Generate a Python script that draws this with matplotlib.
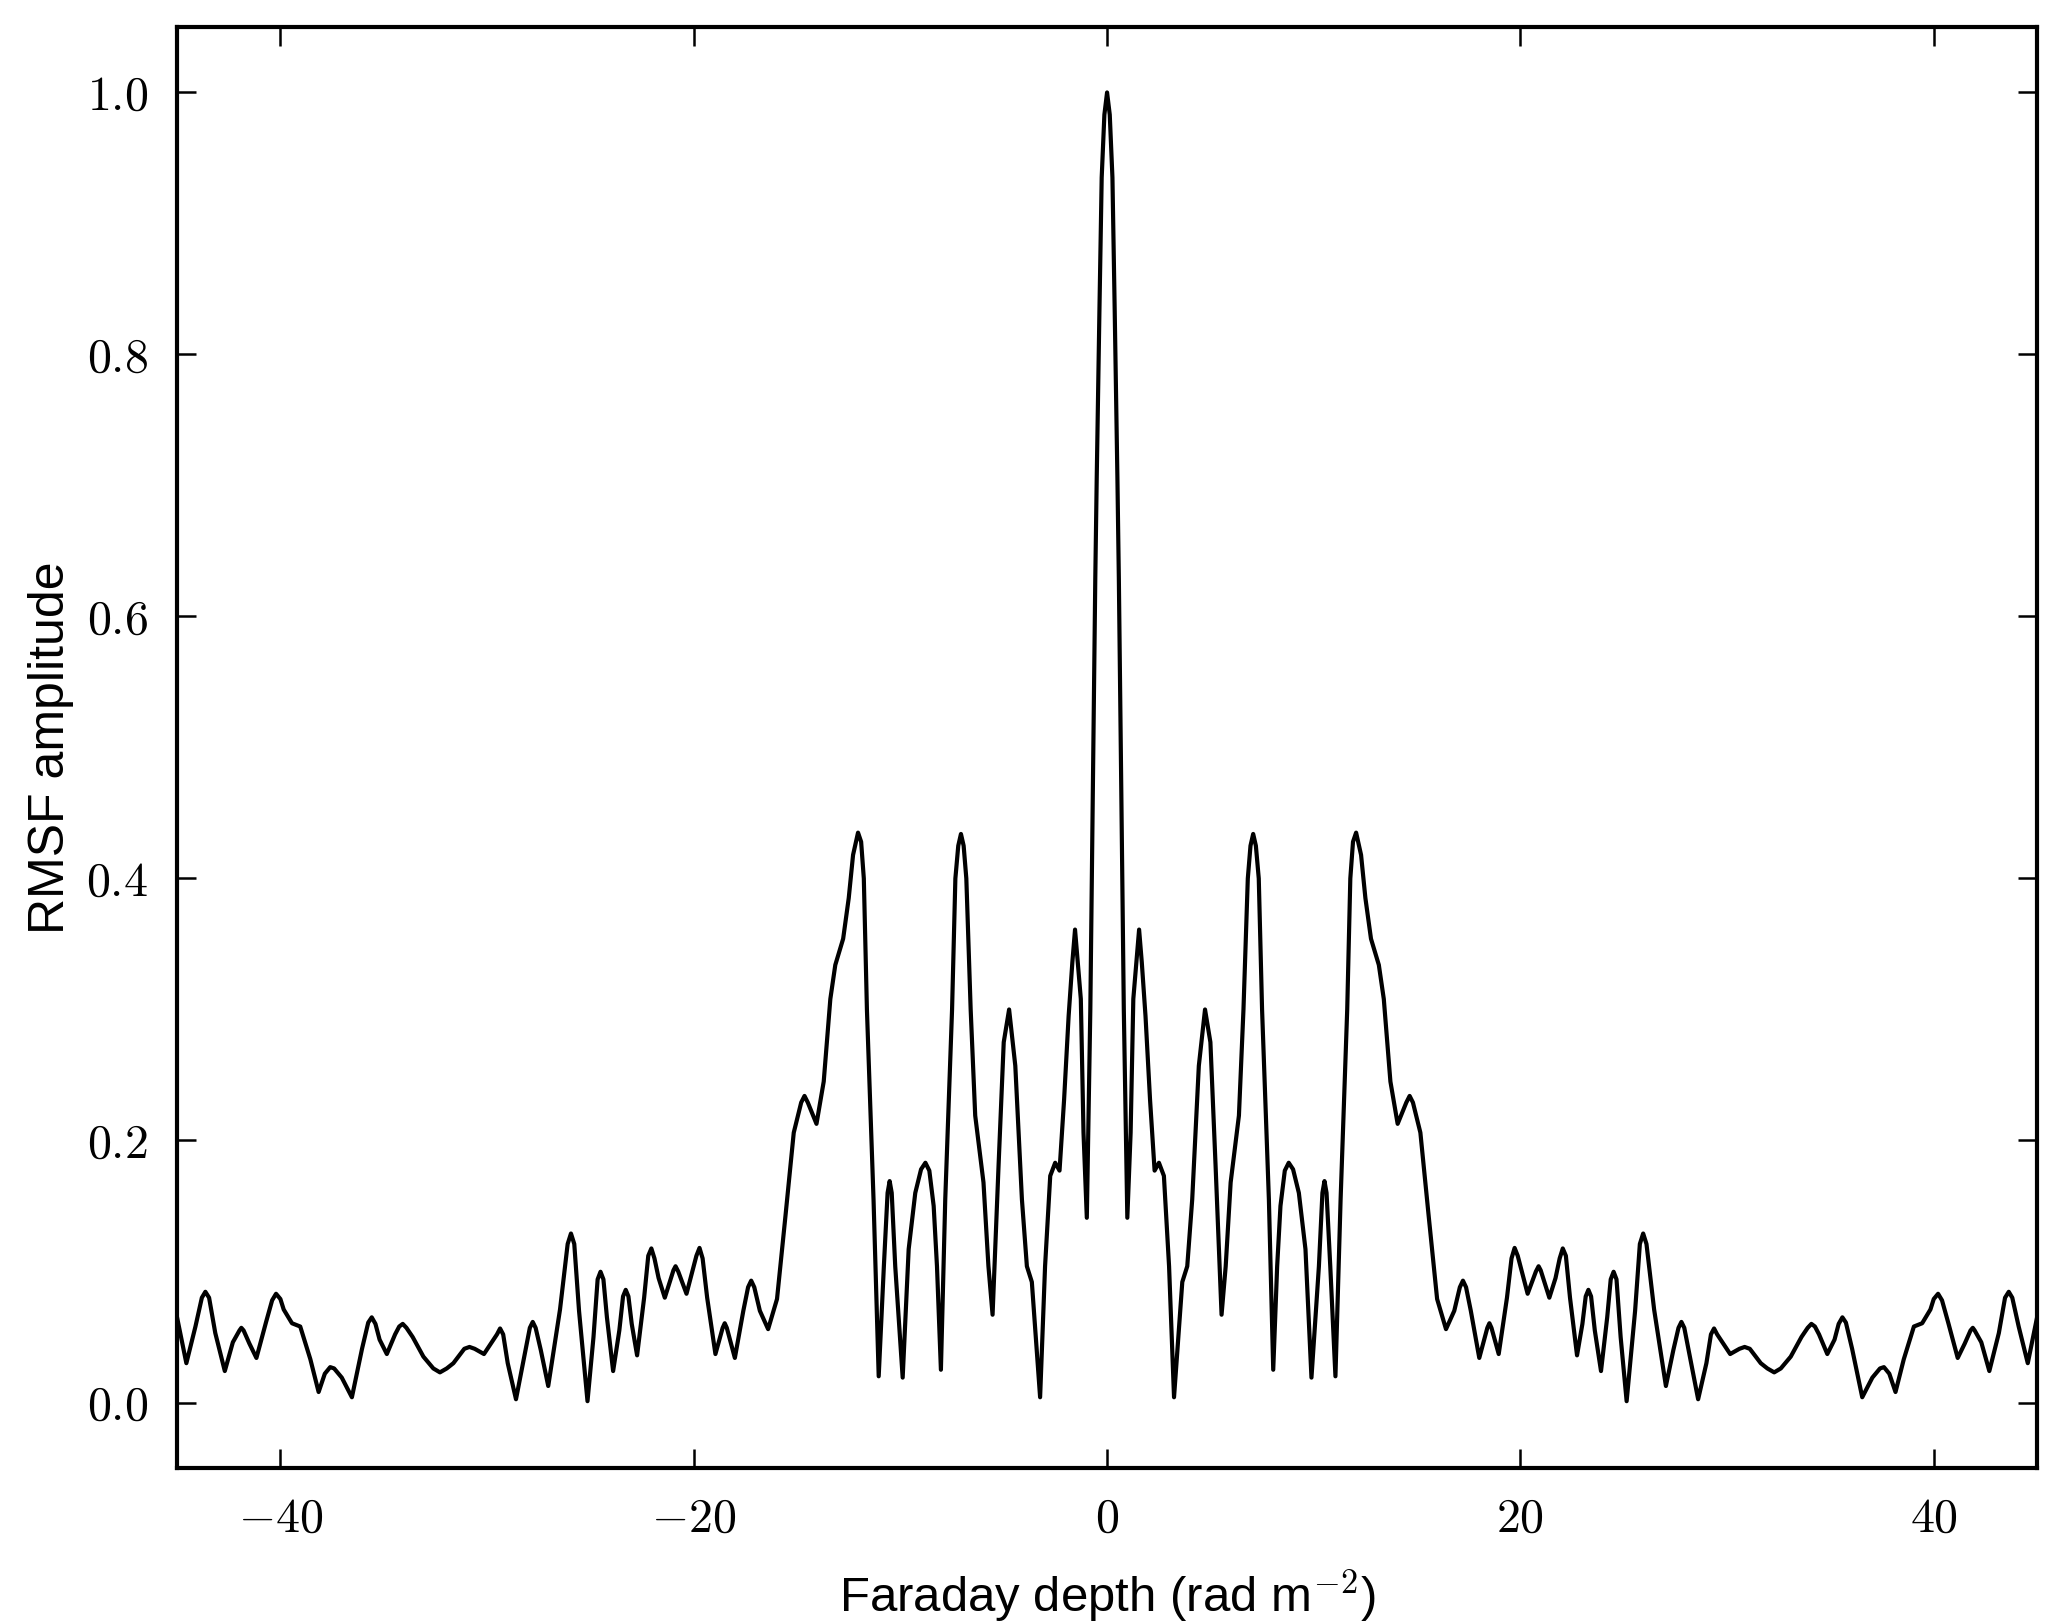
import numpy as np
import matplotlib
matplotlib.use('Agg')
import matplotlib.pyplot as plt
from matplotlib.ticker import FuncFormatter

# RMSF, left half (the curve is symmetric about 0)
phi_left = [-45.0, -44.55, -44.11, -43.8, -43.63, -43.45, -43.15, -42.69, -42.3, -41.98,
            -41.89, -41.78, -41.5, -41.16, -40.7, -40.4, -40.21, -40.0, -39.84, -39.44,
            -39.04, -38.55, -38.15, -37.85, -37.59, -37.4, -37.03, -36.54, -36.05, -35.75,
            -35.58, -35.4, -35.2, -34.85, -34.45, -34.25, -34.08, -33.9, -33.6, -33.08,
            -32.6, -32.28, -31.95, -31.63, -31.1, -30.85, -30.6, -30.15, -29.52, -29.37,
            -29.22, -29.0, -28.6, -28.2, -27.93, -27.79, -27.65, -27.4, -27.04, -26.47,
            -26.1, -25.94, -25.78, -25.55, -25.14, -24.85, -24.65, -24.51, -24.37, -24.2,
            -23.9, -23.6, -23.42, -23.29, -23.16, -23.0, -22.74, -22.4, -22.2, -22.05,
            -21.9, -21.7, -21.4, -20.98, -20.88, -20.75, -20.35, -19.87, -19.72, -19.57,
            -19.35, -18.95, -18.6, -18.5, -18.4, -18.01, -17.6, -17.37, -17.22, -17.07,
            -16.8, -16.4, -15.97, -15.56, -15.16, -14.8, -14.64, -14.48, -14.06, -13.71,
            -13.39, -13.15, -12.77, -12.5, -12.29, -12.05, -11.9, -11.77, -11.62, -11.3,
            -11.05, -10.8, -10.62, -10.52, -10.42, -10.25, -9.89, -9.6, -9.28, -9.0,
            -8.79, -8.6, -8.39, -8.23, -8.04, -7.83, -7.5, -7.34, -7.2, -7.07,
            -6.94, -6.81, -6.6, -6.38, -5.98, -5.74, -5.54, -5.25, -5.0, -4.74,
            -4.44, -4.12, -3.88, -3.64, -3.24, -3.0, -2.75, -2.51, -2.3, -2.08,
            -1.86, -1.68, -1.55, -1.42, -1.27, -1.14, -0.98, -0.81, -0.57, -0.5,
            -0.37, -0.26, -0.13]
amp_left = [0.065, 0.030, 0.058, 0.080, 0.0845, 0.080, 0.053, 0.024, 0.046, 0.055,
            0.057, 0.055, 0.045, 0.034, 0.061, 0.078, 0.083, 0.079, 0.071, 0.0605,
            0.058, 0.033, 0.008, 0.022, 0.027, 0.026, 0.019, 0.004, 0.041, 0.061,
            0.065, 0.060, 0.048, 0.037, 0.052, 0.058, 0.060, 0.057, 0.050, 0.035,
            0.026, 0.023, 0.026, 0.030, 0.041, 0.0424, 0.041, 0.037, 0.052, 0.0565,
            0.052, 0.030, 0.0025, 0.035, 0.057, 0.0615, 0.057, 0.040, 0.0126, 0.071,
            0.121, 0.129, 0.121, 0.070, 0.001, 0.050, 0.094, 0.0998, 0.094, 0.065,
            0.024, 0.055, 0.081, 0.086, 0.081, 0.060, 0.036, 0.080, 0.112, 0.1176,
            0.110, 0.095, 0.080, 0.101, 0.104, 0.100, 0.083, 0.112, 0.118, 0.110,
            0.080, 0.037, 0.057, 0.0605, 0.057, 0.034, 0.070, 0.088, 0.093, 0.088,
            0.070, 0.056, 0.079, 0.1426, 0.206, 0.229, 0.234, 0.229, 0.2127, 0.245,
            0.308, 0.334, 0.354, 0.385, 0.418, 0.435, 0.428, 0.400, 0.300, 0.155,
            0.020, 0.104, 0.160, 0.169, 0.160, 0.104, 0.019, 0.117, 0.160, 0.178,
            0.183, 0.177, 0.150, 0.104, 0.025, 0.155, 0.300, 0.400, 0.425, 0.434,
            0.425, 0.400, 0.300, 0.219, 0.168, 0.104, 0.067, 0.181, 0.275, 0.300,
            0.257, 0.155, 0.104, 0.092, 0.004, 0.104, 0.173, 0.183, 0.177, 0.231,
            0.295, 0.336, 0.361, 0.336, 0.308, 0.206, 0.141, 0.300, 0.629, 0.706,
            0.833, 0.935, 0.983]
peak_phi = 0.0
peak_amp = 1.0

phi = np.concatenate([phi_left, [peak_phi], -np.array(phi_left[::-1])])
amp = np.concatenate([amp_left, [peak_amp], amp_left[::-1]])

plt.rcParams['mathtext.fontset'] = 'cm'
plt.rcParams['font.family'] = ['Liberation Sans', 'DejaVu Sans']

fig = plt.figure(figsize=(2066 / 300, 1623 / 300), dpi=300)
ax = fig.add_axes([0.0857, 0.0955, 0.9003, 0.8879])

ax.plot(phi, amp, color='black', lw=1.0, solid_joinstyle='round')

ax.set_xlim(-45, 45)
ax.set_ylim(-0.05, 1.05)
ax.set_xticks([-40, -20, 0, 20, 40])
ax.set_yticks([0.0, 0.2, 0.4, 0.6, 0.8, 1.0])
ax.xaxis.set_major_formatter(FuncFormatter(lambda v, p: r'$%d$' % v))
ax.yaxis.set_major_formatter(FuncFormatter(lambda v, p: r'$%.1f$' % v))
ax.tick_params(direction='in', length=4.5, width=0.6, top=True, right=True,
               labelsize=11.5, pad=7)
for s in ax.spines.values():
    s.set_linewidth(1.0)

ax.set_xlabel(r'Faraday depth (rad m$^{-2}$)', fontsize=11.8, labelpad=6)
ax.set_ylabel('RMSF amplitude', fontsize=12, labelpad=3)

fig.savefig('out.png', dpi=300)
